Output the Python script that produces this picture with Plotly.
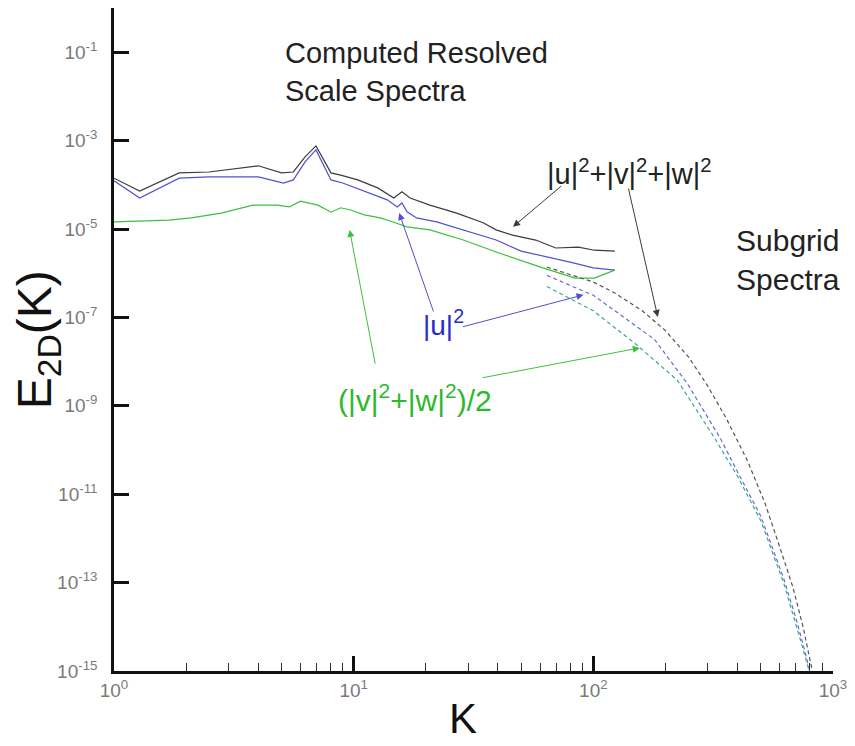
import plotly.graph_objects as go
import numpy as np

# ---------------- data (E given as log10 values) ----------------
K_res_total = [1, 1.28, 1.87, 2.49, 4.0, 5.0, 5.6, 6.27, 6.96, 8.04, 8.83, 10.4, 12.6, 14.7,
               15.9, 17.2, 20.8, 26.9, 34.7, 39.3, 46, 57.5, 69.7, 86.6, 101, 123]
logE_res_total = [-3.85, -4.14, -3.73, -3.71, -3.57, -3.73, -3.71, -3.37, -3.12, -3.73, -3.78,
                  -3.89, -4.07, -4.30, -4.16, -4.30, -4.46, -4.64, -4.86, -5.02, -5.14, -5.25,
                  -5.43, -5.41, -5.48, -5.50]

K_res_u = [1, 1.28, 1.87, 2.49, 4.0, 5.1, 5.6, 6.27, 6.96, 8.04, 9.0, 11.3, 13.8, 15.2, 15.9,
           16.7, 18.3, 22.2, 28.7, 39.3, 50, 65, 80, 100, 123]
logE_res_u = [-3.91, -4.30, -3.85, -3.82, -3.82, -3.96, -3.89, -3.48, -3.21, -3.89, -3.96, -4.16,
              -4.34, -4.50, -4.41, -4.61, -4.75, -4.84, -5.02, -5.25, -5.50, -5.63, -5.75, -5.88,
              -5.93]

K_res_vw = [1, 1.7, 2.1, 2.8, 3.8, 4.8, 5.4, 6.0, 7.1, 8.04, 8.83, 9.7, 11.1, 12.9, 14.2, 16.7,
            20.8, 28.7, 39.3, 61.6, 84, 101, 123]
logE_res_vw = [-4.84, -4.80, -4.75, -4.64, -4.46, -4.46, -4.50, -4.37, -4.46, -4.62, -4.52, -4.57,
               -4.68, -4.75, -4.82, -4.95, -5.02, -5.25, -5.52, -5.88, -6.11, -6.11, -5.93]

K_sub_total = [64, 100, 123, 160, 200, 250, 300, 360, 440, 520, 600, 680, 750, 820]
logE_sub_total = [-5.86, -6.2, -6.45, -6.85, -7.3, -7.9, -8.55, -9.3, -10.25, -11.2, -12.2, -13.1,
                  -14.0, -15.0]

K_sub_u = [64, 100, 123, 180, 247, 340, 400, 500, 622, 700, 750, 800]
logE_sub_u = [-6.05, -6.5, -6.85, -7.5, -8.5, -9.75, -10.5, -11.5, -12.9, -13.8, -14.4, -15.0]

K_sub_vw = [64, 100, 150, 224, 319, 400, 500, 622, 750, 795]
logE_sub_vw = [-6.3, -6.85, -7.6, -8.42, -9.71, -10.6, -11.6, -13.0, -14.5, -15.0]

y_tick_exponents = [-1, -3, -5, -7, -9, -11, -13, -15]
x_tick_exponents = [0, 1, 2, 3]

# ---------------- styles ----------------
C_TOTAL = "#3c3c3c"
C_U = "#5050d0"
C_VW = "#3cbf3c"
C_SUB_TOTAL = "#555555"
C_SUB_U = "#6a6ad8"
C_SUB_VW = "#3aaa8a"
FONT = "Liberation Sans, Arial, sans-serif"

fig = go.Figure()


def add(K, logE, color, dash, width):
    fig.add_trace(go.Scatter(x=K, y=np.power(10.0, logE), mode="lines",
                             line=dict(color=color, width=width, dash=dash),
                             showlegend=False, hoverinfo="skip"))


add(K_res_total, logE_res_total, C_TOTAL, "solid", 1.2)
add(K_res_u, logE_res_u, C_U, "solid", 1.2)
add(K_res_vw, logE_res_vw, C_VW, "solid", 1.2)
add(K_sub_total, logE_sub_total, C_SUB_TOTAL, "4px,3px", 1.2)
add(K_sub_u, logE_sub_u, C_SUB_U, "4px,3px", 1.2)
add(K_sub_vw, logE_sub_vw, C_SUB_VW, "4px,3px", 1.2)

minor_x = [m * 10 ** e for e in range(0, 3) for m in range(2, 10)]

fig.update_xaxes(type="log", range=[0, 3], showgrid=False, zeroline=False,
                 showline=True, linecolor="#111111", linewidth=2.5, mirror=False,
                 ticks="inside", ticklen=15, tickwidth=2.5, tickcolor="#111111",
                 tickvals=[10.0 ** e for e in x_tick_exponents],
                 ticktext=[f"10<sup>{e}</sup>" for e in x_tick_exponents],
                 tickfont=dict(family=FONT, size=19, color="#7a7a7a"),
                 minor=dict(tickvals=minor_x, ticks="inside", ticklen=8, tickwidth=1,
                            tickcolor="#333333", showgrid=False))
fig.update_yaxes(type="log", range=[-15, 0], showgrid=False, zeroline=False,
                 showline=True, linecolor="#111111", linewidth=2.5, mirror=False,
                 ticks="inside", ticklen=15, tickwidth=3, tickcolor="#111111",
                 tickvals=[10.0 ** e for e in y_tick_exponents],
                 ticktext=[f"10<sup>{e}</sup>" for e in y_tick_exponents],
                 tickfont=dict(family=FONT, size=19, color="#7a7a7a"),
                 ticklabelstandoff=10)

ann = []
# text labels (paper coordinates)
ann.append(dict(text="Computed Resolved<br>Scale Spectra", xref="paper", yref="paper",
                x=0.2355, y=0.903, xanchor="left", yanchor="middle", align="left",
                showarrow=False, font=dict(family=FONT, size=29, color="#222222")))
ann.append(dict(text="|u|<sup>2</sup>+|v|<sup>2</sup>+|w|<sup>2</sup>", xref="paper", yref="paper",
                x=0.7176, y=0.7526, xanchor="center", yanchor="middle",
                showarrow=False, font=dict(family=FONT, size=29, color="#222222")))
ann.append(dict(text="Subgrid<br>Spectra", xref="paper", yref="paper",
                x=0.862, y=0.62, xanchor="left", yanchor="middle", align="left",
                showarrow=False, font=dict(family=FONT, size=30, color="#222222")))
ann.append(dict(text="|u|<sup>2</sup>", xref="paper", yref="paper",
                x=0.4587, y=0.525, xanchor="center", yanchor="middle",
                showarrow=False, font=dict(family=FONT, size=28, color="#2a2ad0")))
ann.append(dict(text="(|v|<sup>2</sup>+|w|<sup>2</sup>)/2", xref="paper", yref="paper",
                x=0.4187, y=0.4118, xanchor="center", yanchor="middle",
                showarrow=False, font=dict(family=FONT, size=30, color="#2eb82e")))

# axis titles
ann.append(dict(text="E<sub>2D</sub>(K)", xref="paper", yref="paper", x=-0.106, y=0.50,
                xanchor="center", yanchor="middle", textangle=-90, showarrow=False,
                font=dict(family=FONT, size=48, color="#111111")))
ann.append(dict(text="K", xref="paper", yref="paper", x=0.485, y=-0.071,
                xanchor="center", yanchor="middle", showarrow=False,
                font=dict(family=FONT, size=42, color="#111111")))

# arrows (head -> tail in axis log units)
arrows = [
    ((1.665, -4.95), (1.872, -4.00), C_TOTAL),
    ((2.269, -6.99), (2.145, -4.05), C_TOTAL),
    ((1.190, -4.64), (1.335, -6.90), C_U),
    ((1.959, -6.49), (1.450, -7.22), C_U),
    ((0.983, -5.02), (1.091, -8.08), C_VW),
    ((2.194, -7.69), (1.533, -8.37), C_VW),
]
for (hx, hy), (tx, ty), col in arrows:
    ann.append(dict(x=hx, y=hy, ax=tx, ay=ty, xref="x", yref="y", axref="x", ayref="y",
                    text="", showarrow=True, arrowhead=2, arrowsize=1.4, arrowwidth=1,
                    arrowcolor=col))

fig.update_layout(width=855, height=746, margin=dict(l=114, r=15, t=8, b=75),
                  plot_bgcolor="white", paper_bgcolor="white", annotations=ann,
                  showlegend=False)

fig.write_html("out.html")
